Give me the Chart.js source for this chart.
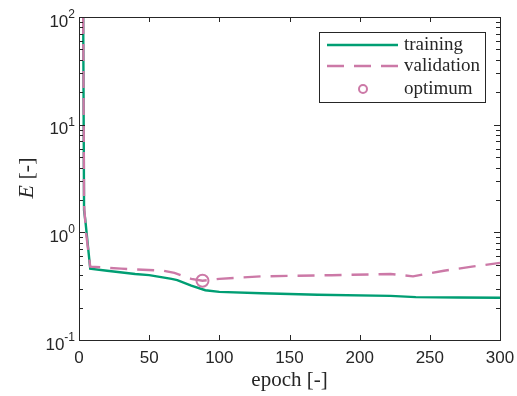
<!DOCTYPE html>
<html>
<head>
<meta charset="utf-8">
<script src="https://cdn.jsdelivr.net/npm/chart.js@4.4.1/dist/chart.umd.min.js"></script>
<style>
  html, body { margin: 0; padding: 0; background: #fff; }
  #wrap { width: 517px; height: 396px; }
</style>
</head>
<body>
<div id="wrap"><canvas id="chart" width="517" height="396"></canvas></div>
<script>
// training / validation error per epoch
const trainEpochs = [3, 3.6, 4.5, 8, 20, 40, 50, 66, 70, 80, 90, 100, 130, 170, 222, 240, 270, 300];
const trainError = [100, 1.6, 1.3, 0.46, 0.44, 0.41, 0.40, 0.37, 0.36, 0.32, 0.29, 0.28, 0.272, 0.263, 0.257, 0.25, 0.248, 0.247];

const valEpochs = [3, 3.6, 5, 8, 30, 60, 68, 80, 88, 100, 130, 180, 222, 230, 238, 260, 280, 300];
const valError = [100, 1.8, 1.0, 0.48, 0.46, 0.44, 0.42, 0.37, 0.355, 0.37, 0.39, 0.40, 0.41, 0.40, 0.39, 0.44, 0.48, 0.52];

const optEpoch = [88];
const optError = [0.355];

const xTicks = [0, 50, 100, 150, 200, 250, 300];
const yExponents = [-1, 0, 1, 2];

const green = '#009E73';
const pink = '#CC79A7';
const axisColor = '#262626';

const toPoints = (xs, ys) => xs.map((x, i) => ({ x: x, y: ys[i] }));

// box, inward ticks, tick labels, axis titles and legend (MATLAB look)
const matlabAxes = {
  id: 'matlabAxes',
  afterDraw(chart) {
    const ctx = chart.ctx;
    const a = chart.chartArea;
    const xs = chart.scales.x;
    const ys = chart.scales.y;
    ctx.save();
    ctx.strokeStyle = axisColor;
    ctx.fillStyle = axisColor;
    ctx.lineWidth = 1;
    ctx.strokeRect(Math.round(a.left) + 0.5, Math.round(a.top) + 0.5,
      Math.round(a.right - a.left), Math.round(a.bottom - a.top));

    // x ticks
    ctx.beginPath();
    xTicks.forEach(v => {
      const px = Math.round(xs.getPixelForValue(v)) + 0.5;
      ctx.moveTo(px, a.bottom); ctx.lineTo(px, a.bottom - 5);
      ctx.moveTo(px, a.top); ctx.lineTo(px, a.top + 5);
    });
    // y ticks, major and minor
    yExponents.forEach(e => {
      for (let m = 1; m < 10; m++) {
        const v = m * Math.pow(10, e);
        if (v > 100.0001) break;
        const py = Math.round(ys.getPixelForValue(v)) + 0.5;
        const len = m === 1 ? 6 : 4;
        ctx.moveTo(a.left, py); ctx.lineTo(a.left + len, py);
        ctx.moveTo(a.right, py); ctx.lineTo(a.right - len, py);
      }
    });
    ctx.stroke();

    // x tick labels
    ctx.font = '17px "Liberation Sans", Arial, sans-serif';
    ctx.textAlign = 'center';
    ctx.textBaseline = 'alphabetic';
    xTicks.forEach(v => {
      ctx.fillText(String(v), xs.getPixelForValue(v), a.bottom + 23);
    });

    // y tick labels 10^e
    yExponents.forEach(e => {
      const py = ys.getPixelForValue(Math.pow(10, e));
      const sup = e < 0 ? '-' + Math.abs(e) : String(e);
      ctx.font = '12px "Liberation Sans", Arial, sans-serif';
      ctx.textAlign = 'right';
      const supW = ctx.measureText(sup).width;
      const right = a.left - 4;
      ctx.fillText(sup, right, py + 1);
      ctx.font = '17px "Liberation Sans", Arial, sans-serif';
      ctx.fillText('10', right - supW, py + 9.5);
    });

    // axis titles
    ctx.textAlign = 'center';
    ctx.font = '21px "Liberation Serif", "Times New Roman", serif';
    ctx.fillText('epoch [-]', (a.left + a.right) / 2, 386);

    ctx.save();
    ctx.translate(33, 178);
    ctx.rotate(-Math.PI / 2);
    ctx.textAlign = 'left';
    ctx.font = 'italic 22px "Liberation Serif", "Times New Roman", serif';
    const eW = ctx.measureText('E ').width;
    ctx.font = '22px "Liberation Serif", "Times New Roman", serif';
    const rW = ctx.measureText('[-]').width;
    const start = -(eW + rW) / 2;
    ctx.font = 'italic 22px "Liberation Serif", "Times New Roman", serif';
    ctx.fillText('E', start, 0);
    ctx.font = '22px "Liberation Serif", "Times New Roman", serif';
    ctx.fillText('[-]', start + eW, 0);
    ctx.restore();

    // legend
    const lx = 319, ly = 32, lw = 166, lh = 70;
    ctx.fillStyle = '#fff';
    ctx.fillRect(lx, ly, lw, lh);
    ctx.strokeStyle = axisColor;
    ctx.strokeRect(lx + 0.5, ly + 0.5, lw, lh);
    ctx.lineWidth = 2.4;
    ctx.strokeStyle = green;
    ctx.beginPath(); ctx.moveTo(327, 45); ctx.lineTo(398, 45); ctx.stroke();
    ctx.strokeStyle = pink;
    ctx.setLineDash([17, 10]);
    ctx.beginPath(); ctx.moveTo(327, 66); ctx.lineTo(398, 66); ctx.stroke();
    ctx.setLineDash([]);
    ctx.lineWidth = 2;
    ctx.beginPath(); ctx.arc(363, 89, 4, 0, Math.PI * 2); ctx.stroke();
    ctx.fillStyle = axisColor;
    ctx.textAlign = 'left';
    ctx.font = '19px "Liberation Serif", "Times New Roman", serif';
    ctx.fillText('training', 404, 50);
    ctx.fillText('validation', 404, 71);
    ctx.fillText('optimum', 404, 94);
    ctx.restore();
  }
};

const chart = new Chart(document.getElementById('chart'), {
  type: 'line',
  data: {
    datasets: [
      {
        label: 'optimum',
        type: 'scatter',
        data: toPoints(optEpoch, optError),
        borderColor: pink,
        backgroundColor: 'rgba(0,0,0,0)',
        borderWidth: 2,
        pointRadius: 6,
        order: 0
      },
      {
        label: 'validation',
        data: toPoints(valEpochs, valError),
        borderColor: pink,
        borderWidth: 2.4,
        borderDash: [17, 10],
        pointRadius: 0,
        tension: 0,
        fill: false,
        order: 1
      },
      {
        label: 'training',
        data: toPoints(trainEpochs, trainError),
        borderColor: green,
        borderWidth: 2.4,
        pointRadius: 0,
        tension: 0,
        fill: false,
        order: 2
      }
    ]
  },
  options: {
    responsive: false,
    animation: false,
    layout: { padding: { left: 79, right: 17, top: 17, bottom: 56 } },
    plugins: {
      legend: { display: false },
      tooltip: { enabled: false }
    },
    scales: {
      x: {
        type: 'linear',
        display: false,
        min: 0,
        max: 300
      },
      y: {
        type: 'logarithmic',
        display: false,
        min: 0.1,
        max: 100
      }
    }
  },
  plugins: [matlabAxes]
});
</script>
</body>
</html>
